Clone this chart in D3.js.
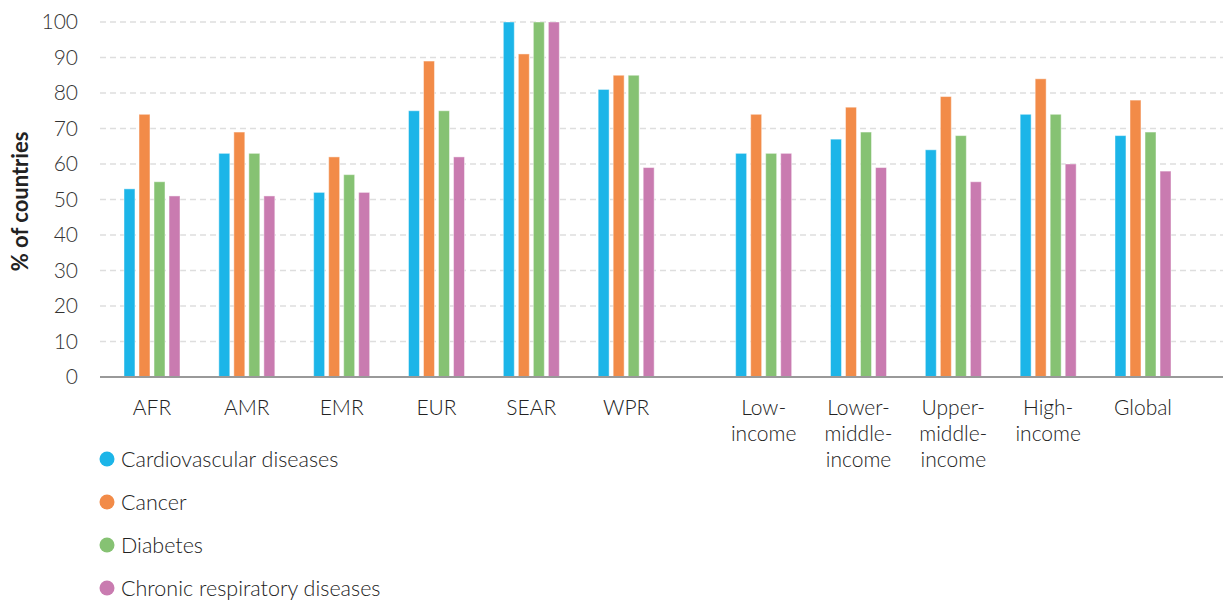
<!DOCTYPE html>
<html>
<head>
<meta charset="utf-8">
<script src="https://cdn.jsdelivr.net/npm/d3@7"></script>
<style>
  body { margin: 0; background: #fff; }
  text { font-family: Lato, "Noto Sans", sans-serif; }
</style>
</head>
<body>
<div id="chart"></div>
<script>
const categories = ['AFR', 'AMR', 'EMR', 'EUR', 'SEAR', 'WPR',
    'Low-\nincome', 'Lower-\nmiddle-\nincome', 'Upper-\nmiddle-\nincome', 'High-\nincome', 'Global'];
const seriesNames = ['Cardiovascular diseases', 'Cancer', 'Diabetes', 'Chronic respiratory diseases'];
const seriesColors = ['#1cb5e8', '#f28b48', '#86c273', '#c97bb0'];
const cardiovascular = [53, 63, 52, 75, 100, 81, 63, 67, 64, 74, 68];
const cancer = [74, 69, 62, 89, 91, 85, 74, 76, 79, 84, 78];
const diabetes = [55, 63, 57, 75, 100, 85, 63, 69, 68, 74, 69];
const respiratory = [51, 51, 52, 62, 100, 59, 63, 59, 55, 60, 58];
const yTicks = [0, 10, 20, 30, 40, 50, 60, 70, 80, 90, 100];

const series = [cardiovascular, cancer, diabetes, respiratory];
const width = 1223, height = 600;
const plotLeft = 100, plotRight = 1223, plotTop = 22, plotBottom = 377;
const fontSize = 21.5;

const svg = d3.select('#chart').append('svg')
    .attr('width', width)
    .attr('height', height);

// regions, then a wider gap before income groups
const slot = i => i + (i >= 6 ? 0.45 : 0);
const x = d3.scaleLinear().domain([0, slot(10)]).range([152, 1143]);
const y = d3.scaleLinear().domain([0, 100]).range([plotBottom, plotTop]);
const inner = d3.scaleBand().domain(d3.range(4)).range([-28, 28]).paddingInner(0.27);

// gridlines
svg.append('g')
    .selectAll('line')
    .data(yTicks.filter(d => d > 0))
    .enter()
    .append('line')
    .attr('x1', plotLeft).attr('x2', plotRight)
    .attr('y1', d => y(d)).attr('y2', d => y(d))
    .attr('stroke', '#dedede')
    .attr('stroke-width', 1.5)
    .attr('stroke-dasharray', '6,4');

// y axis labels
const yAxis = svg.append('g')
    .attr('transform', `translate(${plotLeft},0)`)
    .call(d3.axisLeft(y).tickValues(yTicks).tickSize(0).tickPadding(22));
yAxis.select('.domain').remove();
yAxis.selectAll('text')
    .attr('font-family', 'Lato, sans-serif')
    .attr('font-weight', 300)
    .attr('font-size', 21)
    .attr('fill', '#333');

svg.append('text')
    .attr('transform', `translate(28,${(plotTop + plotBottom) / 2 + 2}) rotate(-90)`)
    .attr('text-anchor', 'middle')
    .attr('font-size', 22)
    .attr('font-weight', 700)
    .attr('fill', '#222')
    .text('% of countries');

// bars
const groups = svg.append('g')
    .selectAll('g')
    .data(categories)
    .enter()
    .append('g')
    .attr('transform', (d, i) => `translate(${x(slot(i))},0)`);

groups.selectAll('rect')
    .data((d, i) => series.map((s, k) => ({ k: k, v: s[i] })))
    .enter()
    .append('rect')
    .attr('x', d => inner(d.k))
    .attr('width', inner.bandwidth())
    .attr('y', d => y(d.v))
    .attr('height', d => plotBottom - y(d.v))
    .attr('fill', d => seriesColors[d.k])
    .attr('stroke', '#fff')
    .attr('stroke-opacity', 0.45)
    .attr('stroke-width', 1);

// baseline
svg.append('line')
    .attr('x1', plotLeft).attr('x2', plotRight)
    .attr('y1', plotBottom).attr('y2', plotBottom)
    .attr('stroke', '#999')
    .attr('stroke-width', 2);

// category labels
groups.append('text')
    .attr('text-anchor', 'middle')
    .attr('font-size', 21)
    .attr('font-weight', 300)
    .attr('fill', '#222')
    .selectAll('tspan')
    .data(d => d.split('\n'))
    .enter()
    .append('tspan')
    .attr('x', 0)
    .attr('y', (d, j) => 415 + j * 26)
    .text(d => d);

// legend
const legend = svg.append('g')
    .selectAll('g')
    .data(seriesNames)
    .enter()
    .append('g')
    .attr('transform', (d, i) => `translate(107,${459 + i * 43})`);

legend.append('circle')
    .attr('r', 7.5)
    .attr('fill', (d, i) => seriesColors[i]);

legend.append('text')
    .attr('x', 14)
    .attr('dy', '0.35em')
    .attr('font-size', fontSize)
    .attr('font-weight', 300)
    .attr('fill', '#222')
    .text(d => d);
</script>
</body>
</html>
